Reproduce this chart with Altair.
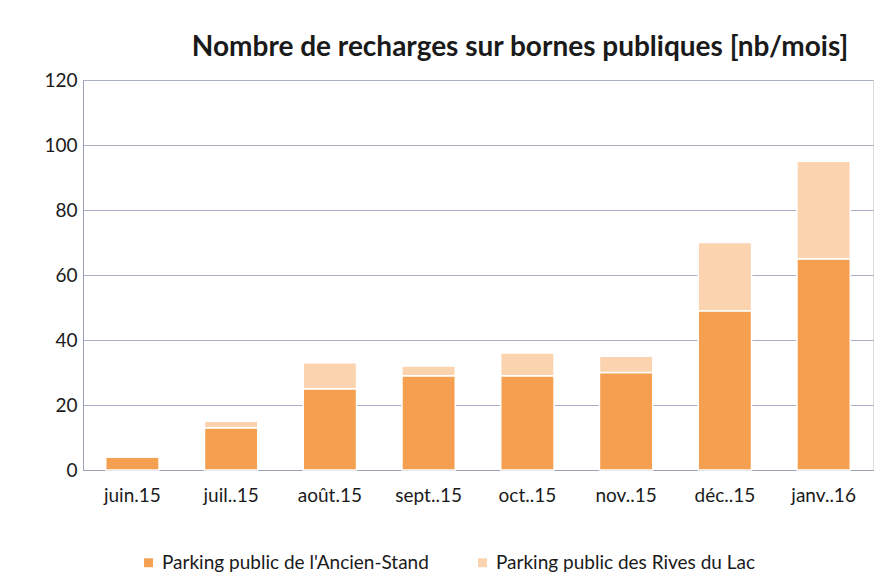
import altair as alt
import pandas as pd

months = ["juin.15", "juil..15", "août.15", "sept..15", "oct..15", "nov..15", "déc..15", "janv..16"]
ancien = [4, 13, 25, 29, 29, 30, 49, 65]
rives = [0, 2, 8, 3, 7, 5, 21, 30]
series = ["Parking public de l'Ancien-Stand", "Parking public des Rives du Lac"]
colors = ["#F5A050", "#FBD3AE"]

rows = []
for m, a, r in zip(months, ancien, rives):
    rows.append({"mois": m, "serie": series[0], "valeur": a, "ordre": 0})
    rows.append({"mois": m, "serie": series[1], "valeur": r, "ordre": 1})
df = pd.DataFrame(rows)

chart = alt.Chart(df).mark_bar(stroke="white", strokeWidth=1.5).encode(
    x=alt.X("mois:N", sort=months, title=None,
            scale=alt.Scale(paddingInner=0.46, paddingOuter=0.23),
            axis=alt.Axis(labelAngle=0, labelFontSize=19, labelColor="#1a1a1a",
                          labelFont="Lato", ticks=False, domain=True,
                          domainColor="#9AA0B8", labelPadding=16)),
    y=alt.Y("valeur:Q", stack="zero", title=None,
            scale=alt.Scale(domain=[0, 120]),
            axis=alt.Axis(values=[0, 20, 40, 60, 80, 100, 120], labelFontSize=19,
                          labelColor="#1a1a1a", labelFont="Lato", ticks=False,
                          domain=True, domainColor="#9AA0B8", gridColor="#A8AEC6",
                          gridWidth=1, labelPadding=6)),
    color=alt.Color("serie:N", scale=alt.Scale(domain=series, range=colors),
                    legend=alt.Legend(title=None, orient="none", legendX=56, legendY=473,
                                      direction="horizontal", symbolType="square",
                                      symbolSize=80, symbolStrokeWidth=0,
                                      labelFontSize=19, labelFont="Lato",
                                      labelColor="#1a1a1a", columnPadding=44,
                                      labelLimit=400)),
    order=alt.Order("ordre:Q", sort="ascending"),
).properties(
    width=790,
    height=390,
    padding={"left": 83, "top": 80, "right": 15, "bottom": 118},
    autosize=alt.AutoSizeParams(type="none"),
    title=alt.TitleParams("Nombre de recharges sur bornes publiques [nb/mois]",
                          font="Lato", fontSize=28, fontWeight="bold",
                          color="#1a1a1a", anchor="middle", dx=42, offset=9),
).configure_view(stroke=None).configure(background="white")

chart.save("out.html", embed_options={"renderer": "svg", "actions": False})
